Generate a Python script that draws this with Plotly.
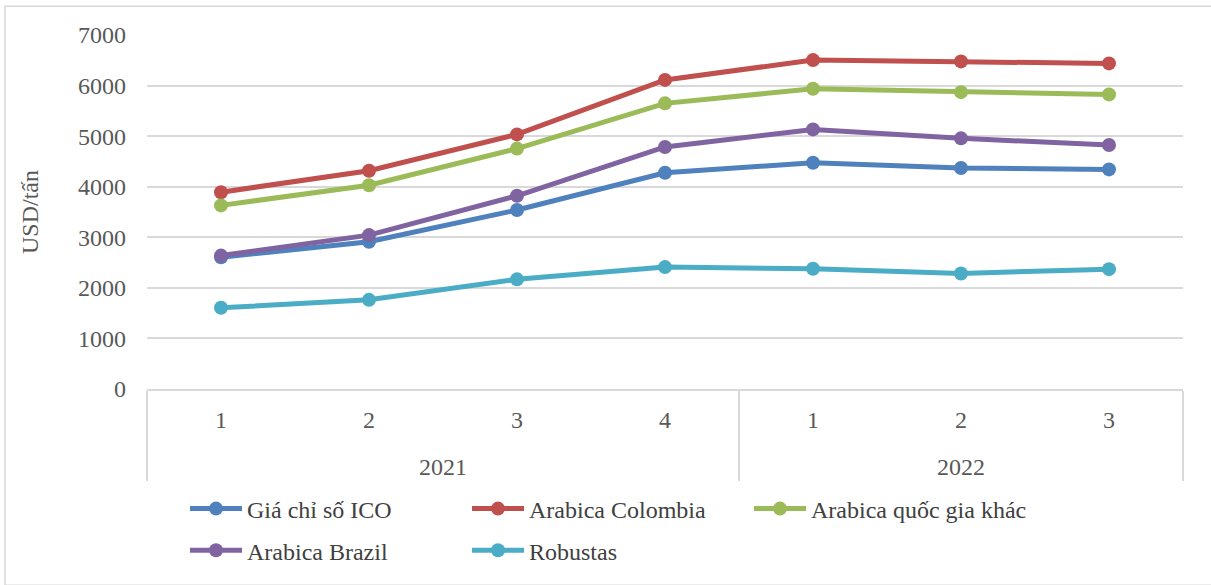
import plotly.graph_objects as go

# Quarter labels grouped by year
years = ["2021", "2021", "2021", "2021", "2022", "2022", "2022"]
quarters = ["1", "2", "3", "4", "1", "2", "3"]

# Coffee prices, USD per tonne
ico = [2605, 2912, 3539, 4277, 4473, 4369, 4342]
colombia = [3892, 4316, 5034, 6112, 6504, 6478, 6438]
other_arabica = [3631, 4029, 4754, 5648, 5936, 5870, 5825]
brazil = [2638, 3043, 3820, 4786, 5133, 4956, 4826]
robustas = [1606, 1763, 2168, 2410, 2377, 2285, 2370]

series = [
    ("Giá chỉ số ICO", ico, "#4F81BD", "legend"),
    ("Arabica Colombia", colombia, "#C0504D", "legend"),
    ("Arabica quốc gia khác", other_arabica, "#9BBB59", "legend"),
    ("Arabica Brazil", brazil, "#8064A2", "legend2"),
    ("Robustas", robustas, "#4BACC6", "legend2"),
]

FONT = "'Liberation Serif', 'Times New Roman', 'DejaVu Serif', serif"
FS = 24
W, H = 1211, 585
ML, MR, MT, MB = 147, 28, 35, 193
pw, ph = W - ML - MR, H - MT - MB

# quarter labels carry a small blank second line so the year row sits lower
quarter_labels = [q + "<br><span style='font-size:4px'>\u00a0</span>" for q in quarters]

fig = go.Figure()
for name, vals, color, leg in series:
    fig.add_trace(go.Scatter(
        x=[years, quarter_labels], y=vals, name=name, mode="lines+markers",
        line=dict(color=color, width=5),
        marker=dict(color=color, size=14),
        legend=leg,
    ))

def px_x(v):
    return (v - ML) / pw

def px_y(v):
    return (H - MB - v) / ph

leg_common = dict(
    orientation="h", xanchor="left", yanchor="middle",
    entrywidth=215, entrywidthmode="pixels", itemwidth=52,
    font=dict(family=FONT, size=FS, color="#404040"),
    bgcolor="rgba(0,0,0,0)",
)

fig.update_layout(
    width=W, height=H,
    margin=dict(l=ML, r=MR, t=MT, b=MB),
    paper_bgcolor="white", plot_bgcolor="white",
    font=dict(family=FONT, size=FS, color="#595959"),
    showlegend=True,
    legend=dict(x=px_x(185), y=px_y(513), **leg_common),
    legend2=dict(x=px_x(185), y=px_y(555), **leg_common),
    shapes=[dict(
        type="rect", xref="paper", yref="paper",
        x0=px_x(5), x1=px_x(1215), y0=px_y(590), y1=px_y(6),
        line=dict(color="#d9d9d9", width=1.5), layer="below",
    )],
)

fig.update_yaxes(
    range=[0, 7000], dtick=1000, showgrid=True, gridcolor="#d9d9d9", gridwidth=1.5,
    zeroline=False, ticks="", ticklabelstandoff=20,
    tickfont=dict(family=FONT, size=FS, color="#595959"),
    title=dict(text="USD/tấn", font=dict(family=FONT, size=FS, color="#595959"), standoff=32),
)
fig.update_xaxes(
    range=[-0.5, 6.5],
    showline=True, linecolor="#d9d9d9", linewidth=1.5,
    showdividers=True, dividercolor="#d9d9d9", dividerwidth=1.5,
    ticks="", showgrid=False, ticklabelstandoff=8,
    tickfont=dict(family=FONT, size=FS, color="#595959"),
)

fig.write_html("out.html")
